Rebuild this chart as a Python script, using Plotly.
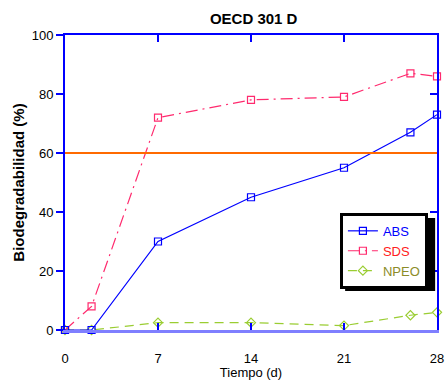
import plotly.graph_objects as go

days = [0, 2, 7, 14, 21, 26, 28]
abs_vals = [0, 0, 30, 45, 55, 67, 73]
sds_vals = [0, 8, 72, 78, 79, 87, 86]
npeo_vals = [0, 0, 2.5, 2.5, 1.5, 5, 6]
x_ticks = [0, 7, 14, 21, 28]
y_ticks = [0, 20, 40, 60, 80, 100]
ref_level = 60

BLUE = "#0000ff"
fig = go.Figure()

fig.add_trace(go.Scatter(
    x=days, y=npeo_vals, mode="lines+markers",
    name="<span style='color:#8c8c28'>NPEO</span>",
    line=dict(color="#9acd32", width=1.2, dash="9px,6px"),
    marker=dict(symbol="diamond-open", size=7, color="#9acd32", line=dict(width=1.2)),
    cliponaxis=False, legendrank=3))
fig.add_trace(go.Scatter(
    x=days, y=sds_vals, mode="lines+markers",
    name="<span style='color:#ff2020'>SDS</span>",
    line=dict(color="#ff2a6e", width=1.2, dash="12px,5px,2px,5px"),
    marker=dict(symbol="square-open", size=7, color="#ff2a6e", line=dict(width=1.2)),
    cliponaxis=False, legendrank=2))
fig.add_trace(go.Scatter(
    x=days, y=abs_vals, mode="lines+markers",
    name="<span style='color:#0000ff'>ABS</span>",
    line=dict(color=BLUE, width=1.2),
    marker=dict(symbol="square-open", size=7, color=BLUE, line=dict(width=1.2)),
    cliponaxis=False, legendrank=1))

# invisible trace for mirrored top/right axes
fig.add_trace(go.Scatter(x=[0], y=[0], xaxis="x2", yaxis="y2", mode="markers",
                         marker=dict(opacity=0), showlegend=False, hoverinfo="skip"))

fig.add_shape(type="line", xref="paper", yref="y", x0=0, x1=1, y0=ref_level, y1=ref_level,
              line=dict(color="#ff6a00", width=2))

# legend shadow
fig.add_shape(type="rect", xref="paper", yref="paper",
              x0=0.753, x1=0.995, y0=0.132, y1=0.38,
              fillcolor="black", line=dict(width=0), layer="above")

font = "Liberation Sans, Arial, sans-serif"
fig.update_layout(
    width=445, height=380,
    margin=dict(l=65, r=8, t=35, b=50, autoexpand=False),
    paper_bgcolor="white", plot_bgcolor="white",
    font=dict(family=font, size=13, color="black"),
    title=dict(text="<b>OECD 301 D</b>", x=0.57, xanchor="center", y=0.95, yanchor="middle",
               font=dict(size=15)),
    showlegend=True,
    legend=dict(x=0.739, y=0.397, xanchor="left", yanchor="top",
                bordercolor="black", borderwidth=3, bgcolor="white",
                font=dict(size=13), tracegroupgap=0, itemwidth=30),
    xaxis=dict(range=[0, 28], tickvals=x_ticks, ticks="inside", ticklen=7, tickcolor=BLUE,
               tickwidth=1.5, showline=True, linecolor="#7f7fff", linewidth=3,
               showgrid=False, zeroline=False, ticklabelstandoff=14, automargin=False,
               ticklabeloverflow="allow",
               title=dict(text="Tiempo (d)", font=dict(size=13), standoff=10)),
    xaxis2=dict(range=[0, 28], tickvals=x_ticks, overlaying="x", side="top", anchor="y",
                ticks="inside", ticklen=7, tickcolor=BLUE, tickwidth=1.5, automargin=False,
                showticklabels=False, showline=True, linecolor=BLUE, linewidth=2,
                showgrid=False, zeroline=False),
    yaxis=dict(range=[0, 100], tickvals=y_ticks, ticks="outside", ticklen=7, tickcolor=BLUE,
               tickwidth=1.5, showline=True, linecolor=BLUE, linewidth=2, automargin=False,
               showgrid=False, zeroline=False,
               title=dict(text="<b>Biodegradabilidad (%)</b>", font=dict(size=15), standoff=3)),
    yaxis2=dict(range=[0, 100], tickvals=y_ticks, overlaying="y", side="right", anchor="x",
                ticks="inside", ticklen=7, tickcolor=BLUE, tickwidth=1.5, automargin=False,
                showticklabels=False, showline=True, linecolor=BLUE, linewidth=2,
                showgrid=False, zeroline=False),
)

fig.write_html("out.html", config={"displayModeBar": False},
               post_script="document.body.style.margin='0';document.body.style.overflow='hidden';")
